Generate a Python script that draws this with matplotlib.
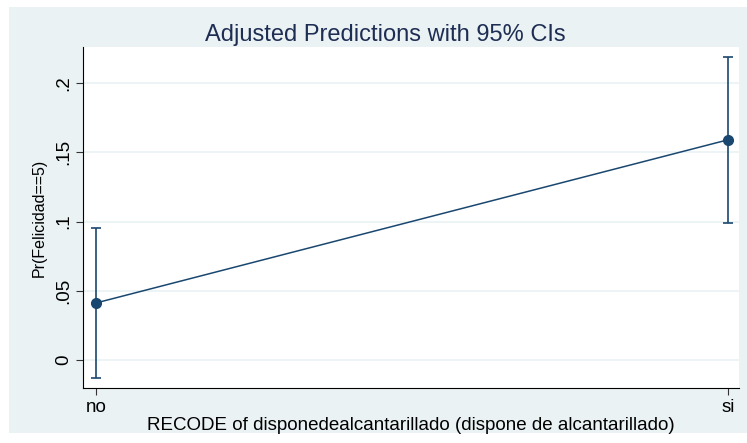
import matplotlib.pyplot as plt
from matplotlib.patches import Rectangle

# datos (marginsplot)
categorias = ['no', 'si']
x_pos = [0, 1]
prediccion = [0.0412, 0.159]
ic_inf = [-0.013, 0.099]
ic_sup = [0.0954, 0.219]
y_ticks = [0, 0.05, 0.1, 0.15, 0.2]
y_labels = ['0', '.05', '.1', '.15', '.2']

plt.rcParams['font.family'] = ['Liberation Sans', 'DejaVu Sans']

W, H = 747, 443
fig = plt.figure(figsize=(W / 100, H / 100), dpi=100)
fig.patch.set_facecolor('white')
fig.patches.append(Rectangle((9 / W, 1 - 433 / H), (W - 9) / W, (433 - 7) / H,
                             transform=fig.transFigure, facecolor='#EAF2F3',
                             edgecolor='none', zorder=-10))

ax = fig.add_axes([83 / W, 1 - 388 / H, (739 - 83) / W, (388 - 47) / H])
ax.set_zorder(5)
ax.set_facecolor('white')

azul = '#1A476F'
err = [[p - lo for p, lo in zip(prediccion, ic_inf)],
       [hi - p for p, hi in zip(prediccion, ic_sup)]]
ax.errorbar(x_pos, prediccion, yerr=err, fmt='none', ecolor=azul,
            elinewidth=1.2, capsize=3.5, capthick=1.2, zorder=3)
ax.plot(x_pos, prediccion, color=azul, linewidth=1.1, marker='o',
        markersize=7, zorder=4, clip_on=False)

ax.set_xlim(-0.0206, 1.0174)
ax.set_ylim(-0.0202, 0.226)
ax.set_xticks(x_pos)
ax.set_xticklabels(categorias, fontsize=13.5)
ax.set_yticks(y_ticks)
ax.set_yticklabels(y_labels, fontsize=13.5, rotation=90, va='center')
ax.grid(axis='y', color='#EAF2F3', linewidth=1.2)
ax.set_axisbelow(True)

for s in ['top', 'right']:
    ax.spines[s].set_visible(False)
ax.spines['left'].set_color('black')
ax.spines['bottom'].set_color('black')
ax.tick_params(length=5, color='#333333', labelcolor='black', pad=3)

ax.set_ylabel('Pr(Felicidad==5)', fontsize=11.5, labelpad=6)
ax.set_xlabel('RECODE of disponedealcantarillado (dispone de alcantarillado)',
              fontsize=13.5, labelpad=1)
fig.text(385 / W, 1 - 35 / H, 'Adjusted Predictions with 95% CIs',
         ha='center', va='center', fontsize=17, color='#1E2D53')

plt.savefig('out.png', dpi=100)
